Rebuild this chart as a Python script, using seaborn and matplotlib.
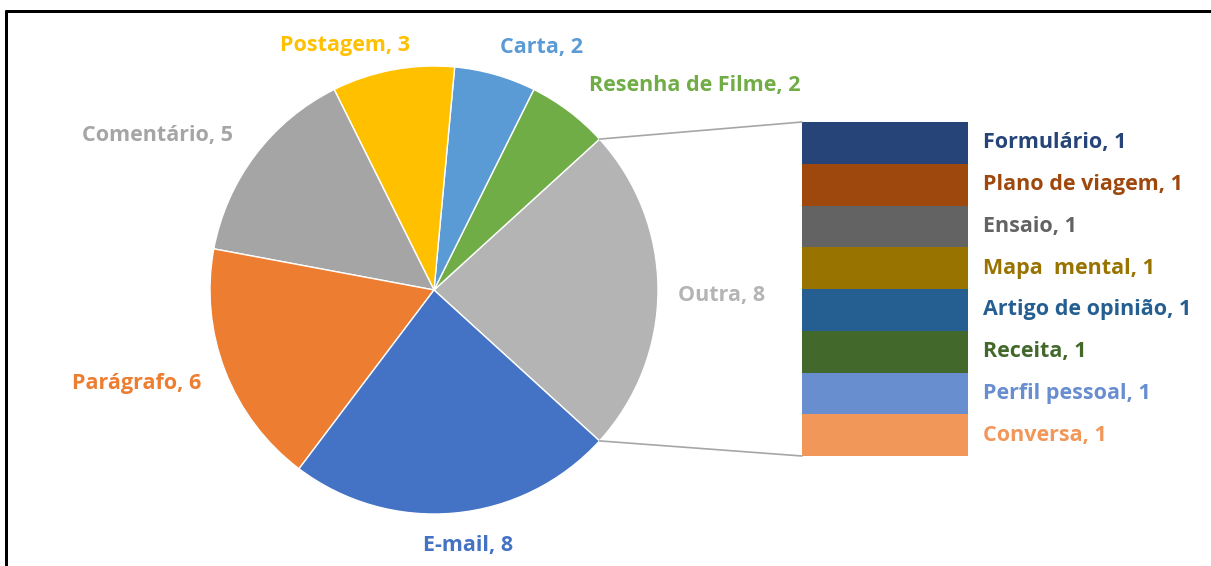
import numpy as np
import matplotlib
matplotlib.use("Agg")
import matplotlib.pyplot as plt
from matplotlib.patches import ConnectionPatch
from matplotlib.lines import Line2D
import seaborn as sns

# ---------------- data ----------------
pie_labels = ["Outra", "Resenha de Filme", "Carta", "Postagem", "Comentário", "Parágrafo", "E-mail"]
pie_values = [8, 2, 2, 3, 5, 6, 8]
pie_colors = ["#B4B4B4", "#70AD47", "#5B9BD5", "#FFC000", "#A5A5A5", "#ED7D31", "#4472C4"]

bar_labels = ["Formulário", "Plano de viagem", "Ensaio", "Mapa  mental",
              "Artigo de opinião", "Receita", "Perfil pessoal", "Conversa"]
bar_values = [1, 1, 1, 1, 1, 1, 1, 1]
bar_colors = ["#264478", "#9E480E", "#636363", "#997300",
              "#255E91", "#43682B", "#698ED0", "#F1975A"]

# label positions (pixels in the 1211x566 canvas, text centres)
pie_label_px = {
    "Outra": (722, 295),
    "Resenha de Filme": (695, 86),
    "Carta": (541, 47),
    "Postagem": (345, 45),
    "Comentário": (158, 135),
    "Parágrafo": (137, 383),
    "E-mail": (468, 545),
}

sns.set_theme(style="white")
plt.rcParams["font.family"] = ["Open Sans", "DejaVu Sans"]

W, H = 1211, 566
fig = plt.figure(figsize=(W / 100, H / 100), dpi=100)
fig.patch.set_facecolor("white")

# pie axes: centre (434,290) px, radius 224 px
cx, cy, r = 434, 290, 224
ax_pie = fig.add_axes([(cx - r) / W, (H - cy - r) / H, 2 * r / W, 2 * r / H])
outra_angle = pie_values[0] / sum(pie_values) * 360
wedges, _ = ax_pie.pie(pie_values, colors=pie_colors, startangle=-outra_angle / 2,
                       counterclock=True, radius=1,
                       wedgeprops=dict(edgecolor="white", linewidth=1))
ax_pie.set_xlim(-1, 1)
ax_pie.set_ylim(-1, 1)
ax_pie.set_aspect("equal")
ax_pie.axis("off")

fs = 15.5
fw = "bold"
for lab, val, col in zip(pie_labels, pie_values, pie_colors):
    px, py = pie_label_px[lab]
    fig.text(px / W, 1 - py / H, f"{lab}, {val}", color=col, fontsize=fs,
             fontweight=fw, ha="center", va="center")

# bar axes: x 802-968, y 122-456 px
bx0, bx1, by0, by1 = 802, 968, 122, 456
ax_bar = fig.add_axes([bx0 / W, (H - by1) / H, (bx1 - bx0) / W, (by1 - by0) / H])
bottom = 0
stack = list(zip(bar_labels, bar_values, bar_colors))[::-1]
for lab, val, col in stack:
    ax_bar.bar(0.5, val, width=1, bottom=bottom, color=col, edgecolor="none")
    ax_bar.text(1.09, bottom + val / 2, f"{lab}, {val}", color=col, fontsize=fs,
                fontweight=fw, ha="left", va="center",
                transform=ax_bar.transData, clip_on=False)
    bottom += val
ax_bar.set_xlim(0, 1)
ax_bar.set_ylim(0, sum(bar_values))
ax_bar.axis("off")

# connector lines
theta1 = np.deg2rad(outra_angle / 2)
for sgn, ytarget in [(1, sum(bar_values)), (-1, 0)]:
    con = ConnectionPatch(xyA=(np.cos(theta1), sgn * np.sin(theta1)), coordsA=ax_pie.transData,
                          xyB=(0, ytarget), coordsB=ax_bar.transData,
                          color="#A6A6A6", linewidth=1.2)
    fig.add_artist(con)

# frame (top and left edges)
lw = 3 * 72 / 100
fig.add_artist(Line2D([6 / W, 1], [1 - 11 / H, 1 - 11 / H], transform=fig.transFigure,
                      color="black", linewidth=lw))
fig.add_artist(Line2D([6 / W, 6 / W], [0, 1 - 11 / H], transform=fig.transFigure,
                      color="black", linewidth=lw))

fig.savefig("out.png", dpi=100, facecolor="white")
